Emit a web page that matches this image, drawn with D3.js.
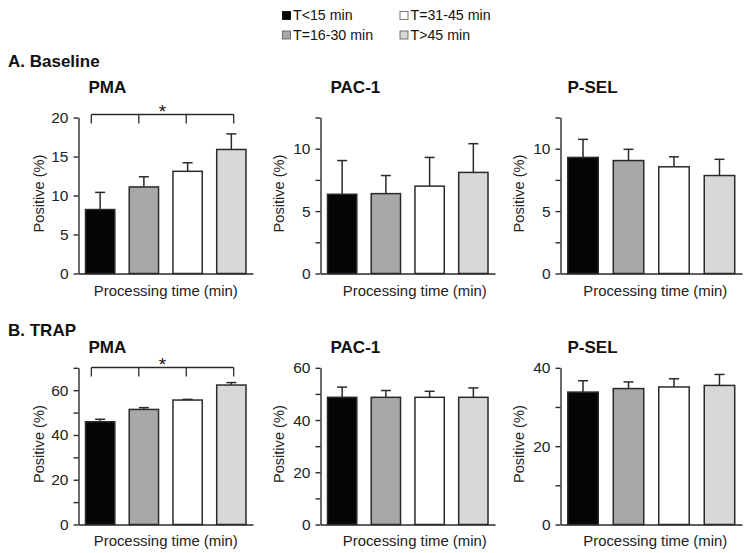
<!DOCTYPE html>
<html>
<head>
<meta charset="utf-8">
<script src="https://cdn.jsdelivr.net/npm/d3@7"></script>
<style>
  html, body { margin: 0; padding: 0; background: #fff; }
  svg { display: block; font-family: "Liberation Sans", Arial, Helvetica, sans-serif; }
</style>
</head>
<body>
<svg id="chart" width="751" height="553"></svg>
<script>
// ---------------- data ----------------
const categories = ["T<15 min", "T=16-30 min", "T=31-45 min", "T>45 min"];
const barColors = ["#050505", "#a8a8a8", "#ffffff", "#d8d8d8"];
const rowTitles = ["A. Baseline", "B. TRAP"];
const markerNames = ["PMA", "PAC-1", "P-SEL"];
const xLabel = "Processing time (min)";
const yLabel = "Positive (%)";

// Baseline (means and upper SEM)
const baselinePMA = [8.2, 11.1, 13.1, 15.9];
const baselinePMAErr = [2.2, 1.3, 1.1, 2.0];
const baselinePAC1 = [6.35, 6.4, 7.0, 8.1];
const baselinePAC1Err = [2.7, 1.45, 2.3, 2.3];
const baselinePSEL = [9.3, 9.05, 8.55, 7.85];
const baselinePSELErr = [1.45, 0.9, 0.8, 1.3];

// TRAP
const trapPMA = [45.9, 51.4, 55.6, 62.3];
const trapPMAErr = [1.1, 0.8, 0.3, 1.1];
const trapPAC1 = [48.7, 48.7, 48.7, 48.7];
const trapPAC1Err = [3.9, 2.6, 2.3, 3.6];
const trapPSEL = [33.8, 34.7, 35.1, 35.5];
const trapPSELErr = [2.9, 1.7, 2.1, 2.8];

// y-axis domains, tick positions and labelled ticks
const yMaxBaseline = [20, 12.5, 12.5];
const yMaxTrap = [70, 60, 40];
const ticksBaselinePMA = [0, 5, 10, 15, 20];
const labelsBaselinePMA = [0, 5, 10, 15, 20];
const ticksBaselineOther = [0, 2.5, 5, 7.5, 10, 12.5];
const labelsBaselineOther = [0, 5, 10];
const ticksTrapPMA = [0, 10, 20, 30, 40, 50, 60, 70];
const ticksTrapPAC1 = [0, 10, 20, 30, 40, 50, 60];
const ticksTrapPSEL = [0, 10, 20, 30, 40];
const labelsTrap = [0, 20, 40, 60];

// significance annotation (PMA panels)
const sigLabel = "*";

// ---------------- layout ----------------
const panels = [
  { row: 0, col: 0, vals: baselinePMA, errs: baselinePMAErr, yMax: yMaxBaseline[0], ticks: ticksBaselinePMA, labels: labelsBaselinePMA, sig: true },
  { row: 0, col: 1, vals: baselinePAC1, errs: baselinePAC1Err, yMax: yMaxBaseline[1], ticks: ticksBaselineOther, labels: labelsBaselineOther, sig: false },
  { row: 0, col: 2, vals: baselinePSEL, errs: baselinePSELErr, yMax: yMaxBaseline[2], ticks: ticksBaselineOther, labels: labelsBaselineOther, sig: false },
  { row: 1, col: 0, vals: trapPMA, errs: trapPMAErr, yMax: yMaxTrap[0], ticks: ticksTrapPMA, labels: labelsTrap, sig: true },
  { row: 1, col: 1, vals: trapPAC1, errs: trapPAC1Err, yMax: yMaxTrap[1], ticks: ticksTrapPAC1, labels: labelsTrap, sig: false },
  { row: 1, col: 2, vals: trapPSEL, errs: trapPSELErr, yMax: yMaxTrap[2], ticks: ticksTrapPSEL, labels: labelsTrap, sig: false }
];

const colLayout = [
  { axisX: 78.5, axisEnd: 253, titleDx: 10, xLabelDx: 0, yLabelDx: -40 },
  { axisX: 320.5, axisEnd: 495, titleDx: 10, xLabelDx: 7, yLabelDx: -42 },
  { axisX: 560.5, axisEnd: 742, titleDx: 7, xLabelDx: 4, yLabelDx: -42 }
];
const rowLayout = [
  { y0: 273.5, yTop: 117.5, titleY: 67, markerY: 93, bracketY: 114.5, xLabelY: 295.5 },
  { y0: 524.5, yTop: 367.8, titleY: 336, markerY: 352.5, bracketY: 367.5, xLabelY: 545.5 }
];

const ink = "#2a2a2a";
const svg = d3.select("#chart");
svg.append("rect").attr("width", 751).attr("height", 553).attr("fill", "#fff");

// ---------------- legend ----------------
const legendPos = [
  { x: 282.5, y: 11.5 }, { x: 282.5, y: 31 },
  { x: 400, y: 11.5 }, { x: 400, y: 31 }
];
const legend = svg.append("g");
categories.forEach((c, i) => {
  const p = legendPos[i];
  legend.append("rect")
    .attr("x", p.x).attr("y", p.y).attr("width", 8).attr("height", 8)
    .attr("fill", barColors[i]).attr("stroke", i === 0 ? "#000" : "#555").attr("stroke-width", 0.8);
  legend.append("text")
    .attr("x", p.x + 10.5).attr("y", p.y + 8.5)
    .attr("font-size", 14.2).attr("fill", "#111")
    .text(c);
});

// ---------------- row titles ----------------
rowTitles.forEach((t, r) => {
  svg.append("text")
    .attr("x", 8).attr("y", rowLayout[r].titleY)
    .attr("font-size", 17).attr("font-weight", "bold").attr("fill", "#111")
    .text(t);
});

// ---------------- panels ----------------
panels.forEach(p => {
  const cl = colLayout[p.col];
  const rl = rowLayout[p.row];
  const g = svg.append("g");

  const x = d3.scaleBand()
    .domain(categories)
    .range([cl.axisX, cl.axisEnd])
    .paddingInner(0.33)
    .paddingOuter(0.16);

  const y = d3.scaleLinear()
    .domain([0, p.yMax])
    .range([rl.y0, rl.yTop]);

  // marker title
  g.append("text")
    .attr("x", cl.axisX + cl.titleDx).attr("y", rl.markerY)
    .attr("font-size", 17).attr("font-weight", "bold").attr("fill", "#111")
    .text(markerNames[p.col]);

  // error bars (drawn under bars)
  const eb = g.append("g").attr("stroke", ink).attr("stroke-width", 1.5).attr("fill", "none");
  categories.forEach((c, i) => {
    const cx = x(c) + x.bandwidth() / 2;
    eb.append("line")
      .attr("x1", cx).attr("x2", cx)
      .attr("y1", y(p.vals[i])).attr("y2", y(p.vals[i] + p.errs[i]));
    eb.append("line")
      .attr("x1", cx - 5).attr("x2", cx + 5)
      .attr("y1", y(p.vals[i] + p.errs[i])).attr("y2", y(p.vals[i] + p.errs[i]));
  });

  // bars
  g.append("g").selectAll("rect")
    .data(p.vals)
    .join("rect")
    .attr("x", (d, i) => x(categories[i]))
    .attr("y", d => y(d))
    .attr("width", x.bandwidth())
    .attr("height", d => y(0) - y(d))
    .attr("fill", (d, i) => barColors[i])
    .attr("stroke", ink)
    .attr("stroke-width", 1.5);

  // y axis
  const yAxis = d3.axisLeft(y)
    .tickValues(p.ticks)
    .tickSize(5)
    .tickSizeOuter(0)
    .tickPadding(5)
    .tickFormat(d => p.labels.includes(d) ? d3.format("d")(d) : "");
  const ya = g.append("g").attr("transform", `translate(${cl.axisX},0)`).call(yAxis);
  ya.selectAll("path, line").attr("stroke", ink).attr("stroke-width", 1.4);
  ya.selectAll("text").attr("font-size", 15.5).attr("fill", "#222").attr("font-family", "Liberation Sans, Arial, sans-serif");

  // x axis (baseline line only)
  const xAxis = d3.axisBottom(x).tickSize(0).tickSizeOuter(0).tickFormat("");
  const xa = g.append("g").attr("transform", `translate(0,${rl.y0})`).call(xAxis);
  xa.select("path").attr("stroke", ink).attr("stroke-width", 1.4);

  // axis labels
  const barsCenter = (x(categories[0]) + x(categories[3]) + x.bandwidth()) / 2;
  g.append("text")
    .attr("x", barsCenter + cl.xLabelDx).attr("y", rl.xLabelY)
    .attr("text-anchor", "middle").attr("font-size", 14.9).attr("fill", "#222")
    .text(xLabel);
  const yc = (rl.y0 + rl.yTop) / 2 - 2;
  g.append("text")
    .attr("transform", `translate(${cl.axisX + cl.yLabelDx + 5},${yc}) rotate(-90)`)
    .attr("text-anchor", "middle").attr("font-size", 14.6).attr("fill", "#222")
    .text(yLabel);

  // significance bracket
  if (p.sig) {
    const xStart = x(categories[0]) + x.bandwidth() * 0.2;
    const xEnd = x(categories[3]) + x.bandwidth() * 0.58;
    const tickXs = d3.range(4).map(k => xStart + (xEnd - xStart) * k / 3);
    const br = g.append("g").attr("stroke", ink).attr("stroke-width", 1.3).attr("fill", "none");
    br.append("line").attr("x1", xStart).attr("x2", xEnd).attr("y1", rl.bracketY).attr("y2", rl.bracketY);
    tickXs.forEach(tx => {
      br.append("line").attr("x1", tx).attr("x2", tx).attr("y1", rl.bracketY).attr("y2", rl.bracketY + 9);
    });
    g.append("text")
      .attr("x", (xStart + xEnd) / 2).attr("y", rl.bracketY + 3)
      .attr("text-anchor", "middle").attr("font-size", 19).attr("fill", "#111")
      .text(sigLabel);
  }
});
</script>
</body>
</html>
